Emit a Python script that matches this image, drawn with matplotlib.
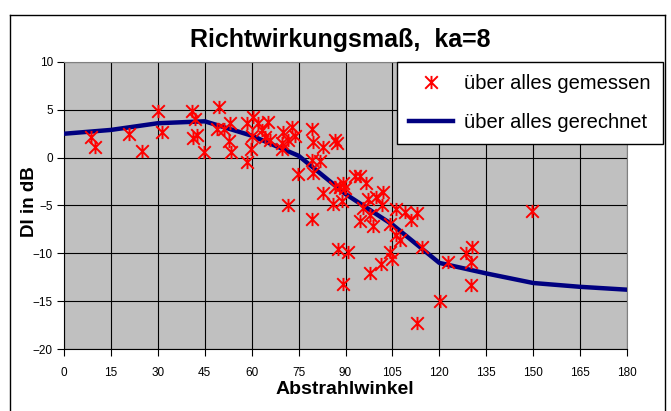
import numpy as np
import matplotlib
matplotlib.use('Agg')
import matplotlib.pyplot as plt
from matplotlib.path import Path
from matplotlib.lines import Line2D

plt.rcParams['font.family'] = ['Liberation Sans', 'DejaVu Sans']

# measured directivity (angle in deg, DI in dB)
meas_deg = [8.6, 9.9, 20.8, 25.0, 30.0, 31.2, 41.0, 41.9, 41.3, 42.4, 44.7,
            49.6, 48.8, 51.2, 53.1, 52.8, 53.3, 58.4, 60.5, 60.0, 59.8, 58.6,
            62.1, 63.2, 65.3, 64.3, 65.9, 69.6, 70.1, 72.8, 73.8, 71.7, 69.6,
            79.4, 79.7, 82.9, 79.3, 81.8, 79.6, 74.9, 86.6, 87.2, 82.9, 86.6,
            88.2, 89.3, 89.8, 88.8, 86.1, 71.7, 79.2, 93.0, 94.6, 96.7, 97.3,
            95.7, 94.6, 98.9, 97.8, 99.9, 102.1, 101.6, 106.3, 109.0, 110.8,
            112.8, 104.2, 106.3, 107.4, 114.3, 104.2, 104.8, 101.5, 97.8, 87.7,
            90.9, 89.3, 120.2, 112.9, 122.7, 149.7, 130.6, 128.6, 130.0, 130.0]
meas_db = [2.2, 1.1, 2.5, 0.7, 4.9, 2.7, 4.9, 4.0, 2.1, 2.4, 0.6,
           5.3, 3.0, 3.0, 3.6, 1.7, 0.6, 3.6, 4.2, 2.3, 0.9, -0.5,
           3.6, 2.9, 3.7, 2.2, 1.8, 1.5, 2.7, 3.2, 2.3, 1.8, 0.9,
           3.0, 1.6, 1.1, -0.2, -0.3, -1.6, -1.7, 1.8, 1.5, -3.7, -3.1,
           -3.1, -2.7, -3.2, -4.5, -4.8, -5.0, -6.4, -1.9, -1.9, -2.6, -4.3,
           -5.3, -6.6, -7.1, -6.0, -4.1, -3.6, -5.0, -5.4, -5.7, -6.5,
           -5.8, -6.9, -8.1, -8.6, -9.3, -9.9, -10.6, -11.1, -12.1, -9.5,
           -9.9, -13.2, -15.0, -17.3, -10.9, -5.6, -9.3, -10.0, -10.9, -13.3]

# computed directivity
calc_deg = [0, 15, 30, 45, 60, 75, 90, 105, 120, 135, 150, 165, 180]
calc_db = [2.5, 2.9, 3.6, 3.8, 2.3, 0.2, -3.8, -7.0, -11.0, -12.1, -13.1, -13.5, -13.8]

xticks = list(range(0, 181, 15))
yticks = list(range(-20, 11, 5))

W, H = 671, 411
fig = plt.figure(figsize=(W / 100, H / 100), dpi=100)
ax = fig.add_axes([64 / W, 1 - 349 / H, (627 - 64) / W, (349 - 62) / H])
ax.set_facecolor('#C0C0C0')

# excel style star: X plus vertical bar
star = Path([(-1, -1), (1, 1), (-1, 1), (1, -1), (0, -1.05), (0, 1.05)],
            [Path.MOVETO, Path.LINETO, Path.MOVETO, Path.LINETO, Path.MOVETO, Path.LINETO])

ax.plot(meas_deg, meas_db, ls='none', marker=star, ms=9.5, mew=1.4,
        color='#FF0000', mec='#FF0000', zorder=4, label='über alles gemessen')
ax.plot(calc_deg, calc_db, '-', color='#000080', lw=3.2, zorder=3,
        solid_joinstyle='round', label='über alles gerechnet')

ax.set_xlim(0, 180); ax.set_ylim(-20, 10)
ax.set_xticks(xticks); ax.set_yticks(yticks)
ax.grid(True, color='black', lw=0.8)
ax.set_axisbelow(True)
ax.tick_params(direction='out', length=5, width=0.8, labelsize=8.5, pad=3)
ax.tick_params(axis='x', pad=8)
for s in ['top', 'right']:
    ax.spines[s].set_color('#808080')
for s in ['left', 'bottom']:
    ax.spines[s].set_color('black')

fig.text(345 / W, 1 - 389 / H, 'Abstrahlwinkel', ha='center', va='center',
         fontsize=14, fontweight='bold')
fig.text(30 / W, 1 - 202 / H, 'DI in dB', ha='center', va='center', rotation=90,
         fontsize=13.5, fontweight='bold')
fig.text(340 / W, 1 - 40 / H, 'Richtwirkungsmaß,  ka=8', ha='center', va='center',
         fontsize=18, fontweight='bold')

leg = ax.legend(loc='upper left', bbox_to_anchor=(397 / W, 1 - 62 / H),
                bbox_transform=fig.transFigure, fontsize=14.5, frameon=True,
                fancybox=False, edgecolor='black', framealpha=1, borderpad=0.6,
                handlelength=2.2, handletextpad=0.55, labelspacing=1.0, borderaxespad=0)
leg.get_frame().set_linewidth(1.0)

# chart area border
for (x0, y0, x1, y1) in [(10, 15, 665, 15), (10, 15, 10, 412), (665, 15, 665, 412)]:
    fig.add_artist(Line2D([x0 / W, x1 / W], [1 - y0 / H, 1 - y1 / H], color='black', lw=1.0))

fig.savefig('out.png', dpi=100)
